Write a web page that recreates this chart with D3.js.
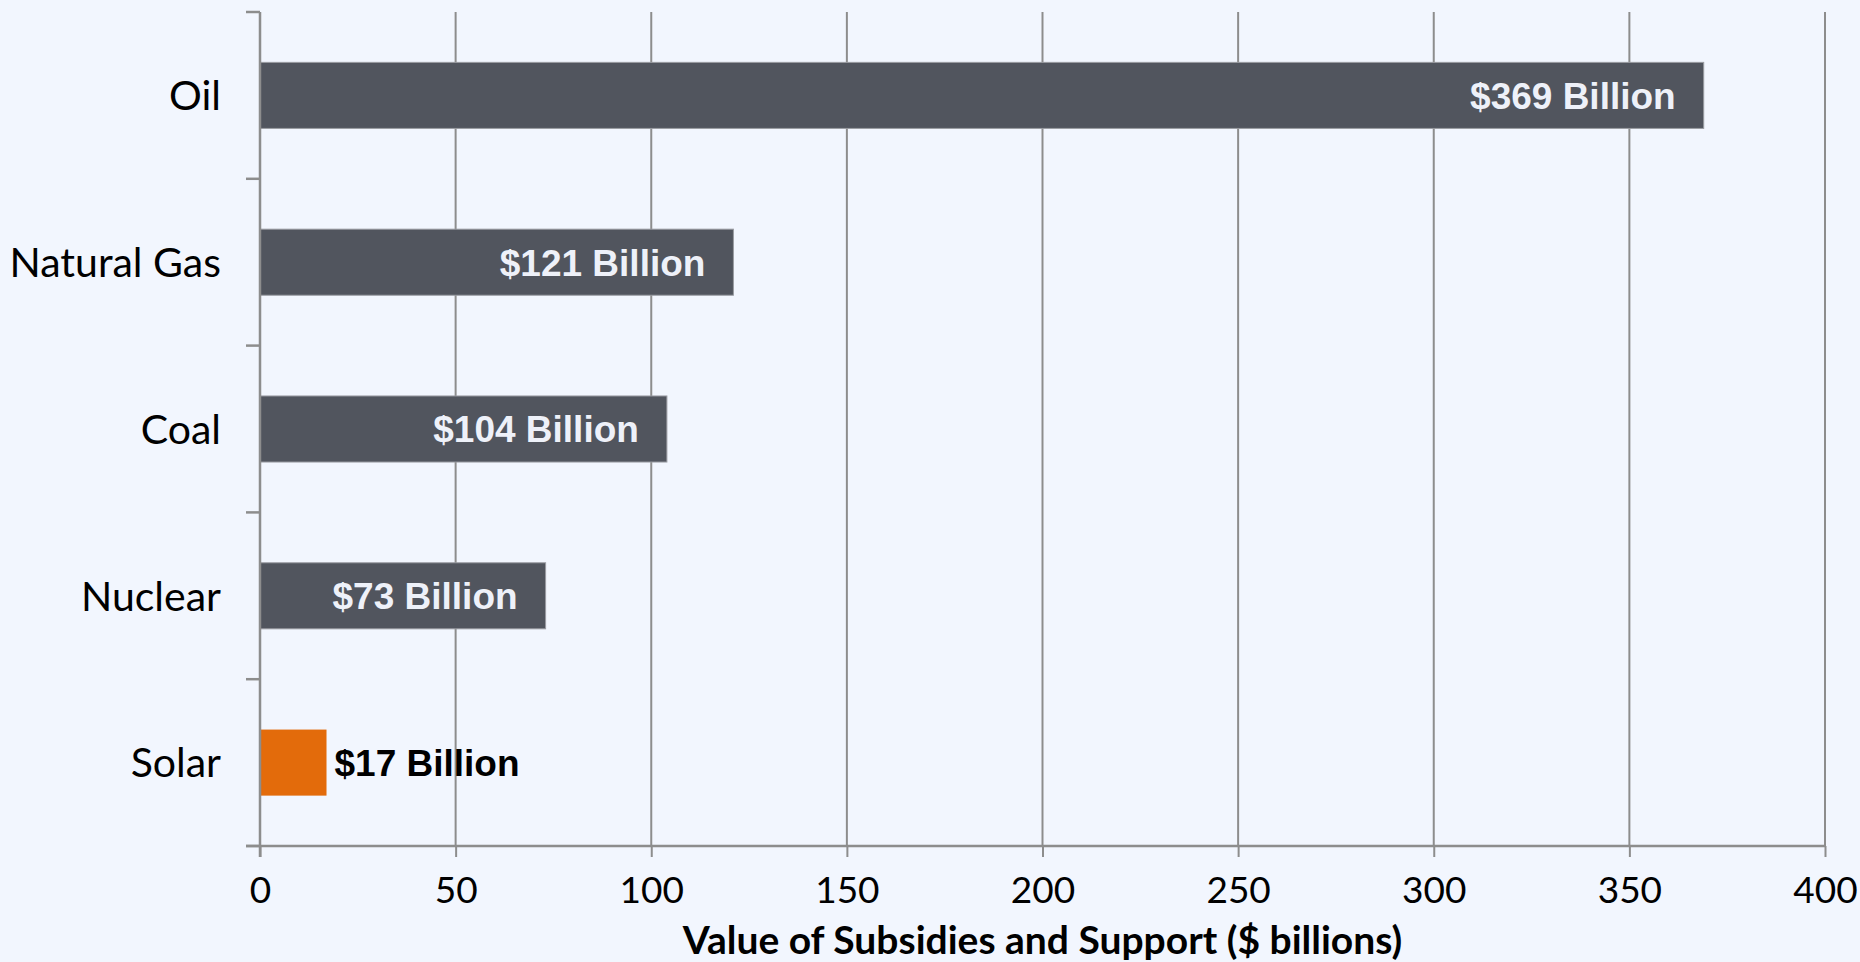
<!DOCTYPE html>
<html>
<head>
<meta charset="utf-8">
<script src="https://cdn.jsdelivr.net/npm/d3@7"></script>
<style>
  html, body { margin: 0; padding: 0; background: #f2f6fe; }
  svg { display: block; }
</style>
</head>
<body>
<svg id="chart" width="1860" height="962"></svg>
<script>
// Subsidies and support by energy source ($ billions)
const categories = ["Oil", "Natural Gas", "Coal", "Nuclear", "Solar"];
const values = [369, 121, 104, 73, 17];
const valueLabels = ["$369 Billion", "$121 Billion", "$104 Billion", "$73 Billion", "$17 Billion"];
const xTicks = [0, 50, 100, 150, 200, 250, 300, 350, 400];
const axisTitle = "Value of Subsidies and Support ($ billions)";

const W = 1860, H = 962;
const margin = { top: 12, right: 35, bottom: 116, left: 260 };
const gridColor = "#8d8d8d";
const barColor = "#51555e";
const highlight = "#e36b0b";

const svg = d3.select("#chart");
svg.append("rect").attr("width", W).attr("height", H).attr("fill", "#f2f6fe");

const x = d3.scaleLinear().domain([0, 400]).range([margin.left, W - margin.right]);
const y = d3.scaleBand().domain(categories)
  .range([margin.top, H - margin.bottom])
  .paddingInner(0.604).paddingOuter(0.302);

const bottom = H - margin.bottom;

// vertical gridlines
svg.append("g").selectAll("line").data(xTicks.slice(1)).join("line")
  .attr("x1", d => x(d)).attr("x2", d => x(d))
  .attr("y1", margin.top).attr("y2", bottom)
  .attr("stroke", gridColor).attr("stroke-width", 2);

// bars
svg.append("g").selectAll("rect").data(categories).join("rect")
  .attr("x", x(0))
  .attr("y", d => y(d))
  .attr("width", (d, i) => x(values[i]) - x(0))
  .attr("height", y.bandwidth())
  .attr("fill", d => d === "Solar" ? highlight : barColor)
  .attr("stroke", d => d === "Solar" ? "none" : "#9a9ca2")
  .attr("stroke-width", 1);

// x axis
const xAxis = svg.append("g")
  .attr("transform", `translate(0,${bottom})`)
  .call(d3.axisBottom(x).tickValues(xTicks).tickSize(11).tickPadding(20).tickSizeOuter(0));
xAxis.select(".domain").remove();
xAxis.selectAll(".tick line").attr("stroke", gridColor).attr("stroke-width", 2);
xAxis.selectAll(".tick text")
  .attr("font-family", "Lato, sans-serif").attr("font-size", 37).attr("fill", "#000");

// axis lines
svg.append("line").attr("x1", x(0) - 14).attr("x2", x(400) + 1)
  .attr("y1", bottom).attr("y2", bottom)
  .attr("stroke", gridColor).attr("stroke-width", 2.5);
svg.append("line").attr("x1", x(0)).attr("x2", x(0))
  .attr("y1", margin.top).attr("y2", bottom + 11)
  .attr("stroke", gridColor).attr("stroke-width", 2.5);

// category boundary ticks on the y axis
const half = y.step() * y.paddingInner() / 2;
const bounds = categories.map(c => y(c) - half).concat([y(categories[categories.length - 1]) + y.bandwidth() + half]);
svg.append("g").selectAll("line").data(bounds).join("line")
  .attr("x1", x(0) - 14).attr("x2", x(0))
  .attr("y1", d => d).attr("y2", d => d)
  .attr("stroke", gridColor).attr("stroke-width", 2.5);

// category labels
svg.append("g").selectAll("text").data(categories).join("text")
  .attr("x", x(0) - 39)
  .attr("y", d => y(d) + y.bandwidth() / 2)
  .attr("dy", "0.36em")
  .attr("text-anchor", "end")
  .attr("font-family", "Lato, sans-serif").attr("font-size", 41)
  .attr("fill", "#000")
  .text(d => d);

// value labels: inside the bar when it is long enough, otherwise just past its end
svg.append("g").selectAll("text").data(categories).join("text")
  .each(function (d, i) {
    const inside = values[i] >= 50;
    d3.select(this)
      .attr("x", inside ? x(values[i]) - 28 : x(values[i]) + 8)
      .attr("text-anchor", inside ? "end" : "start")
      .attr("fill", inside ? "#eef1f9" : "#000");
  })
  .attr("y", d => y(d) + y.bandwidth() / 2)
  .attr("dy", "0.36em")
  .attr("font-family", "'Liberation Sans', Arial, sans-serif")
  .attr("font-weight", "bold").attr("font-size", 37)
  .text((d, i) => valueLabels[i]);

// axis title
svg.append("text")
  .attr("x", (x(0) + x(400)) / 2).attr("y", 954)
  .attr("text-anchor", "middle")
  .attr("font-family", "Lato, sans-serif").attr("font-weight", "bold").attr("font-size", 39)
  .attr("fill", "#000")
  .text(axisTitle);
</script>
</body>
</html>
